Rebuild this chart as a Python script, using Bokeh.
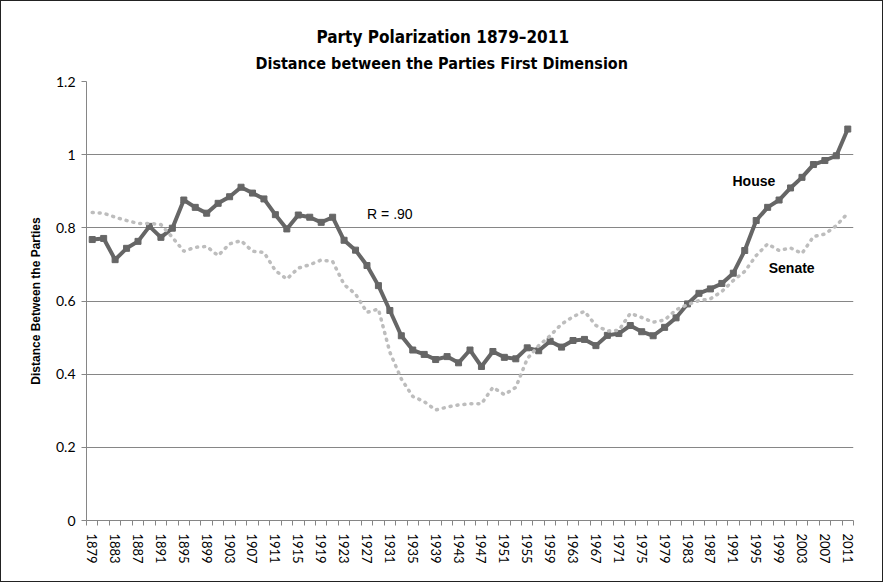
from bokeh.plotting import figure
from bokeh.models import (ColumnDataSource, FixedTicker, NumeralTickFormatter,
                          Range1d, Title, Label)
from bokeh.embed import file_html
from bokeh.resources import INLINE

years = [1879, 1881, 1883, 1885, 1887, 1889, 1891, 1893, 1895, 1897, 1899,
         1901, 1903, 1905, 1907, 1909, 1911, 1913, 1915, 1917, 1919, 1921,
         1923, 1925, 1927, 1929, 1931, 1933, 1935, 1937, 1939, 1941, 1943,
         1945, 1947, 1949, 1951, 1953, 1955, 1957, 1959, 1961, 1963, 1965,
         1967, 1969, 1971, 1973, 1975, 1977, 1979, 1981, 1983, 1985, 1987,
         1989, 1991, 1993, 1995, 1997, 1999, 2001, 2003, 2005, 2007, 2009,
         2011]

house = [0.768, 0.771, 0.713, 0.744, 0.763, 0.804, 0.774, 0.799, 0.876, 0.856,
         0.840, 0.867, 0.885, 0.911, 0.895, 0.879, 0.836, 0.797, 0.835, 0.829,
         0.815, 0.829, 0.766, 0.739, 0.697, 0.642, 0.574, 0.505, 0.466, 0.454,
         0.440, 0.448, 0.431, 0.466, 0.421, 0.462, 0.446, 0.442, 0.472, 0.464,
         0.490, 0.474, 0.492, 0.495, 0.478, 0.506, 0.511, 0.533, 0.516, 0.505,
         0.528, 0.554, 0.592, 0.621, 0.633, 0.648, 0.676, 0.738, 0.820, 0.856,
         0.876, 0.909, 0.938, 0.973, 0.984, 0.997, 1.070]

senate = [0.842, 0.840, 0.829, 0.820, 0.812, 0.812, 0.809, 0.774, 0.736, 0.747,
          0.749, 0.724, 0.756, 0.765, 0.736, 0.733, 0.683, 0.660, 0.690, 0.699,
          0.712, 0.708, 0.645, 0.619, 0.569, 0.578, 0.460, 0.387, 0.339, 0.325,
          0.302, 0.310, 0.316, 0.319, 0.319, 0.364, 0.344, 0.364, 0.442, 0.478,
          0.505, 0.537, 0.557, 0.572, 0.533, 0.518, 0.520, 0.566, 0.555, 0.542,
          0.548, 0.576, 0.590, 0.601, 0.606, 0.626, 0.656, 0.681, 0.724, 0.756,
          0.738, 0.745, 0.730, 0.776, 0.783, 0.806, 0.840]

label_years = years[::2]
y_ticks = [0, 0.2, 0.4, 0.6, 0.8, 1.0, 1.2]

title_main = "Party Polarization 1879\u20132011"
title_sub = "Distance between the Parties First Dimension"
y_title = "Distance Between the Parties"

src = ColumnDataSource(dict(year=years, house=house, senate=senate))

p = figure(width=883, height=582, output_backend="svg", toolbar_location=None,
           x_range=Range1d(years[0] - 1, years[-1] + 1),
           y_range=Range1d(0, 1.2),
           min_border_left=85, min_border_right=31,
           min_border_top=80, min_border_bottom=63)
p.styles = {"border": "1px solid #222222"}
p.outline_line_color = None
p.background_fill_color = "white"
p.border_fill_color = "white"

title_font = "Liberation Sans Narrow, DejaVu Sans Condensed, sans-serif"
p.add_layout(Title(text=title_sub, align="left", text_font=title_font,
                   text_font_size="16px", text_font_style="bold",
                   text_color="#000000", offset=169, standoff=18), "above")
p.add_layout(Title(text=title_main, align="left", text_font=title_font,
                   text_font_size="17px", text_font_style="bold",
                   text_color="#000000", offset=230, standoff=-9), "above")

# grid
p.xgrid.visible = False
p.ygrid.ticker = FixedTicker(ticks=y_ticks)
p.ygrid.grid_line_color = "#868686"
p.ygrid.grid_line_width = 1

# y axis
p.yaxis.ticker = FixedTicker(ticks=y_ticks)
p.yaxis.formatter = NumeralTickFormatter(format="0.[0]")
p.yaxis.axis_line_color = "#868686"
p.yaxis.major_tick_line_color = "#868686"
p.yaxis.major_tick_out = 5
p.yaxis.major_tick_in = 0
p.yaxis.minor_tick_line_color = None
p.yaxis.major_label_text_font = "Lato"
p.yaxis.major_label_text_font_size = "14px"
p.yaxis.major_label_text_color = "#000000"
p.yaxis.major_label_standoff = 6
p.yaxis.axis_label = y_title
p.yaxis.axis_label_text_font = "Liberation Sans"
p.yaxis.axis_label_text_font_style = "bold"
p.yaxis.axis_label_text_font_size = "12px"
p.yaxis.axis_label_text_color = "#000000"
p.yaxis.axis_label_standoff = 10

# x axis
bounds = [y - 1 for y in years] + [years[-1] + 1]
p.xaxis.ticker = FixedTicker(ticks=label_years, minor_ticks=bounds)
p.xaxis.axis_line_color = "#868686"
p.xaxis.major_tick_line_color = None
p.xaxis.minor_tick_line_color = "#868686"
p.xaxis.minor_tick_out = 5
p.xaxis.minor_tick_in = 0
p.xaxis.major_label_orientation = "vertical"
p.xaxis.major_label_text_font = "Lato"
p.xaxis.major_label_text_font_size = "13px"
p.xaxis.major_label_text_color = "#000000"
p.xaxis.major_label_standoff = 7

# series
p.line("year", "house", source=src, line_color="#666666", line_width=4,
       line_join="round")
p.scatter("year", "house", source=src, marker="square", size=6,
          fill_color="#666666", line_color="#666666")
p.line("year", "senate", source=src, line_color="#bdbdbd", line_width=3.5,
       line_dash="1 6", line_cap="round")

p.add_layout(Label(x=1994.6, y=0.929, text="House", text_font="Liberation Sans",
                   text_font_size="14px", text_font_style="bold",
                   text_align="center", text_baseline="middle", text_color="#000000"))
p.add_layout(Label(x=2001.2, y=0.689, text="Senate", text_font="Liberation Sans",
                   text_font_size="14px", text_font_style="bold",
                   text_align="center", text_baseline="middle", text_color="#000000"))
p.add_layout(Label(x=1931, y=0.839, text="R = .90", text_font="Liberation Sans",
                   text_font_size="14px",
                   text_align="center", text_baseline="middle", text_color="#000000"))

open("out.html", "w").write(file_html(p, INLINE))
